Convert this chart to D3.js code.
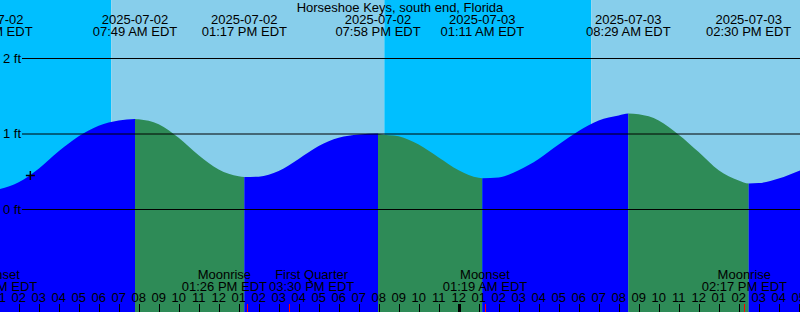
<!DOCTYPE html>
<html>
<head>
<meta charset="utf-8">
<script src="https://cdn.jsdelivr.net/npm/d3@7"></script>
<style>
body{margin:0;background:#fff;}
text{font-family:"Liberation Sans",Arial,sans-serif;font-size:13px;fill:#000;}
</style>
</head>
<body>
<script>
// station + time window
var stationName = "Horseshoe Keys, south end, Florida";
var windowStart = "2025-07-02 01:04", windowEnd = "2025-07-03 17:04";

// high / low tides (ft)
var tideTimes = ["2025-07-02 00:35","2025-07-02 07:49","2025-07-02 13:17","2025-07-02 19:58","2025-07-03 01:11","2025-07-03 08:29","2025-07-03 14:30"];
var tideKinds = ["low","high","low","high","low","high","low"];
var tideFeet = [0.26,1.20,0.43,1.005,0.415,1.27,0.345];

// water level every hour (ft)
var hourTimes = ["2025-07-02 01:00","2025-07-02 02:00","2025-07-02 03:00","2025-07-02 04:00","2025-07-02 05:00","2025-07-02 06:00","2025-07-02 07:00","2025-07-02 08:00","2025-07-02 09:00","2025-07-02 10:00","2025-07-02 11:00","2025-07-02 12:00","2025-07-02 13:00","2025-07-02 14:00","2025-07-02 15:00","2025-07-02 16:00","2025-07-02 17:00","2025-07-02 18:00","2025-07-02 19:00","2025-07-02 20:00","2025-07-02 21:00","2025-07-02 22:00","2025-07-02 23:00",
  "2025-07-03 00:00","2025-07-03 01:00","2025-07-03 02:00","2025-07-03 03:00","2025-07-03 04:00","2025-07-03 05:00","2025-07-03 06:00","2025-07-03 07:00","2025-07-03 08:00","2025-07-03 09:00","2025-07-03 10:00","2025-07-03 11:00","2025-07-03 12:00","2025-07-03 13:00","2025-07-03 14:00","2025-07-03 15:00","2025-07-03 16:00","2025-07-03 17:00","2025-07-03 18:00"];
var hourFeet = [0.27,0.36,0.54,0.77,0.97,1.11,1.18,1.195,1.13,0.95,0.72,0.53,0.44,0.435,0.51,0.67,0.84,0.95,0.995,1.0,0.97,0.86,0.69,
  0.52,0.42,0.425,0.52,0.67,0.86,1.04,1.18,1.245,1.26,1.18,0.99,0.76,0.52,0.385,0.35,0.41,0.51,0.63];

// sun
var sunTimes = ["2025-07-02 06:38","2025-07-02 20:17","2025-07-03 06:38"];
var sunKinds = ["rise","set","rise"];

// moon
var moonTimes = ["2025-07-02 00:49","2025-07-02 13:26","2025-07-02 15:30","2025-07-03 01:19","2025-07-03 14:17"];
var moonNames = ["Moonset","Moonrise","First Quarter","Moonset","Moonrise"];

// level grid + current-time mark
var levelTicks = [0,1,2];
var markTime = "2025-07-02 02:35", markFeet = 0.45;

var width = 800, height = 312;
var parse = d3.timeParse("%Y-%m-%d %H:%M");
var fmtDate = d3.timeFormat("%Y-%m-%d"), fmtTime = d3.timeFormat("%I:%M %p EDT"), fmtHour = d3.timeFormat("%I");

var x = d3.scaleTime().domain([parse(windowStart),parse(windowEnd)]).range([0,width]);
var y = d3.scaleLinear().domain([0,2]).range([209.5,58.5]);

var svg = d3.select("body").append("svg").attr("width",width).attr("height",height);

// day / night background
var sun = sunTimes.map(function(t,i){return {t:parse(t),kind:sunKinds[i]};});
var edges = [x.invert(-50)].concat(sun.map(function(d){return d.t;})).concat([x.invert(width+50)]);
var bg = [];
for(var i=0;i<edges.length-1;i++){
  var night = i<sun.length ? sun[i].kind=="rise" : sun[sun.length-1].kind=="set";
  bg.push({a:edges[i],b:edges[i+1],night:night});
}
svg.selectAll(".sky").data(bg).enter().append("rect")
  .attr("class","sky")
  .attr("x",function(d){return x(d.a);})
  .attr("width",function(d){return x(d.b)-x(d.a);})
  .attr("y",0).attr("height",height)
  .attr("fill",function(d){return d.night?"#00bfff":"#87ceeb";});

// tide curve
var tides = tideTimes.map(function(t,i){return {t:parse(t),kind:tideKinds[i],ft:tideFeet[i]};});
var pts = hourTimes.map(function(t,i){return {t:parse(t),ft:hourFeet[i]};}).concat(tides);
pts.sort(function(a,b){return a.t-b.t;});

var area = d3.area()
  .curve(d3.curveMonotoneX)
  .x(function(d){return x(d.t);})
  .y0(height)
  .y1(function(d){return y(d.ft);});

svg.append("clipPath").attr("id","water")
  .append("path").attr("d",area(pts));

var tEdges = [x.invert(-50)].concat(tides.map(function(d){return d.t;})).concat([x.invert(width+50)]);
var bands = [];
for(var j=0;j<tEdges.length-1;j++){
  var rising = j<tides.length ? tides[j].kind=="high" : tides[tides.length-1].kind=="low";
  bands.push({a:tEdges[j],b:tEdges[j+1],rising:rising});
}
svg.append("g").attr("clip-path","url(#water)")
  .selectAll("rect").data(bands).enter().append("rect")
    .attr("x",function(d){return x(d.a);})
    .attr("width",function(d){return x(d.b)-x(d.a);})
    .attr("y",0).attr("height",height)
    .attr("fill",function(d){return d.rising?"#0000ff":"#2e8b57";});

// level lines
svg.selectAll(".lvl").data(levelTicks).enter().append("line")
  .attr("class","lvl")
  .attr("x1",22).attr("x2",width)
  .attr("y1",function(d){return y(d);}).attr("y2",function(d){return y(d);})
  .attr("stroke","#000").attr("stroke-width",1);
svg.selectAll(".lvlLab").data(levelTicks).enter().append("text")
  .attr("class","lvlLab")
  .attr("x",3).attr("y",function(d){return y(d)+4;})
  .text(function(d){return d+" ft";});

// mark
var mx = x(parse(markTime)), my = y(markFeet);
svg.append("path").attr("d","M"+(mx-4.5)+","+my+"h9M"+mx+","+(my-4.5)+"v9")
  .attr("stroke","#000").attr("stroke-width",1.5);

// title + tide labels
svg.append("text").attr("x",width/2).attr("y",12).attr("text-anchor","middle").text(stationName);
var tl = svg.selectAll(".tl").data(tides).enter().append("g")
  .attr("class","tl")
  .attr("transform",function(d){return "translate("+x(d.t)+",0)";});
tl.append("text").attr("y",24).attr("text-anchor","middle").text(function(d){return fmtDate(d.t);});
tl.append("text").attr("y",36).attr("text-anchor","middle").text(function(d){return fmtTime(d.t);});

// moon labels, pushed apart when they overlap
var moon = moonTimes.map(function(t,i){return {t:parse(t),name:moonNames[i]};});
var ml = svg.selectAll(".ml").data(moon).enter().append("g").attr("class","ml");
ml.append("text").attr("y",278.5).attr("text-anchor","middle").text(function(d){return d.name;});
ml.append("text").attr("y",290.5).attr("text-anchor","middle").text(function(d){return fmtTime(d.t);});
ml.each(function(d){
  var w=0; d3.select(this).selectAll("text").each(function(){w=Math.max(w,this.getComputedTextLength());});
  d.w=w; d.cx=x(d.t);
});
for(var k=1;k<moon.length;k++){
  var p=moon[k-1], q=moon[k], need=(p.w+q.w)/2+2, gap=q.cx-p.cx;
  if(gap<need){p.cx-=(need-gap)/2; q.cx+=(need-gap)/2;}
}
ml.attr("transform",function(d){return "translate("+d.cx+",0)";});

// hour ticks
var hours = d3.timeHour.range(d3.timeHour.floor(x.invert(-30)),x.invert(width+30));
svg.selectAll(".hl").data(hours).enter().append("text")
  .attr("class","hl")
  .attr("x",function(d){return x(d);}).attr("y",301.5)
  .attr("text-anchor","middle")
  .text(function(d){return fmtHour(d);});
svg.selectAll(".ht").data(hours).enter().append("line")
  .attr("class","ht")
  .attr("x1",function(d){return Math.round(x(d))+0.5;}).attr("x2",function(d){return Math.round(x(d))+0.5;})
  .attr("y1",304).attr("y2",height)
  .attr("stroke","#000")
  .attr("stroke-width",function(d){return d.getHours()==0?3:1;});
svg.selectAll(".mt").data(moon).enter().append("line")
  .attr("class","mt")
  .attr("x1",function(d){return Math.round(x(d.t))+0.5;}).attr("x2",function(d){return Math.round(x(d.t))+0.5;})
  .attr("y1",304).attr("y2",height)
  .attr("stroke","#ff0000").attr("stroke-width",1);
</script>
</body>
</html>
